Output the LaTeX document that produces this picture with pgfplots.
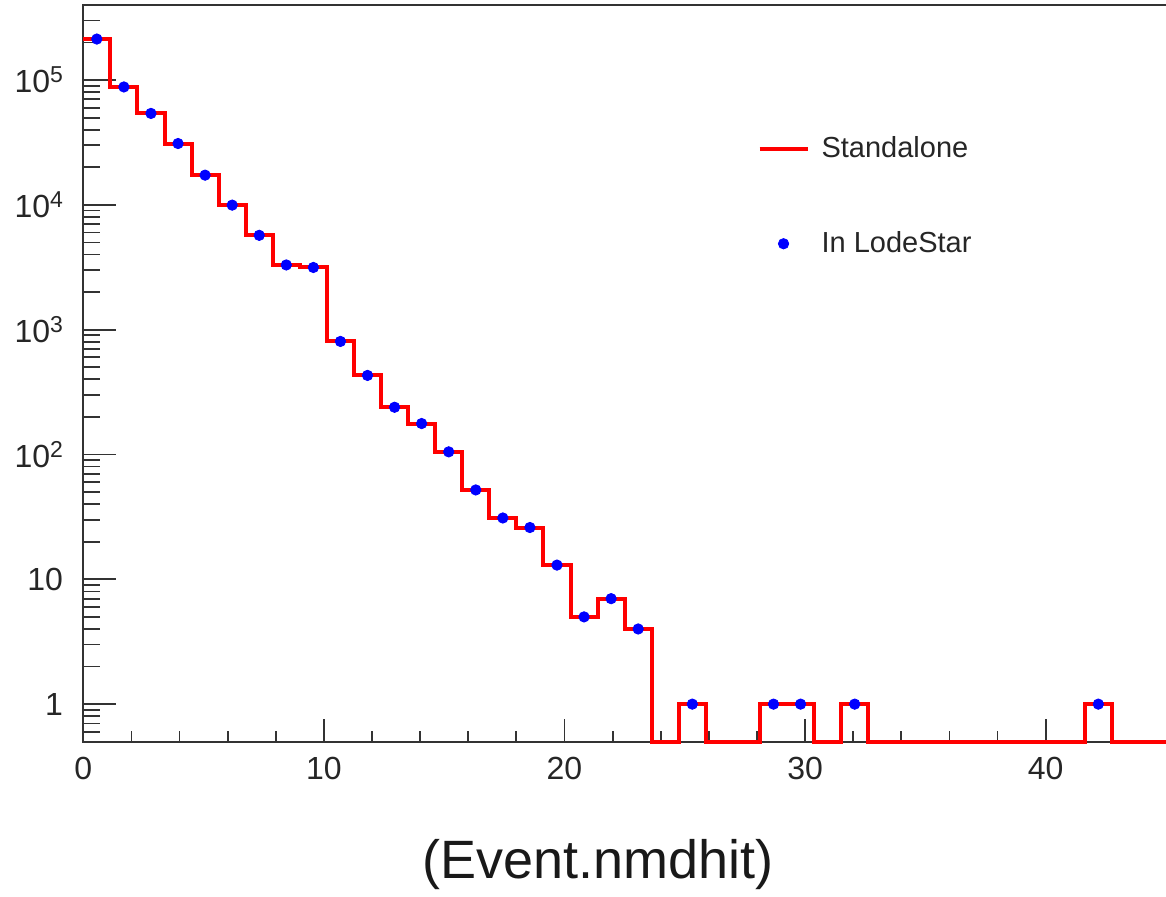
\documentclass[border=0pt]{standalone}
\usepackage{fontspec}
\setmainfont{Liberation Sans}
\usepackage{pgfplots}
\pgfplotsset{compat=1.18}
\definecolor{axgray}{gray}{0.2}
\pgfplotsset{
  linelegend/.style={legend image code/.code={\draw[##1] (0pt,0pt) -- (24pt,0pt);}},
  marklegend/.style={legend image code/.code={\draw[##1] plot coordinates {(12pt,0pt)};}},
}
\begin{document}
\begin{tikzpicture}
% ---- axis 1: frame + y ticks (ROOT-style long y ticks)
\begin{axis}[
  at={(41.65pt,77.15pt)}, anchor=south west,
  scale only axis, width=542.55pt, height=368.2pt,
  xmin=0, xmax=45.1, ymode=log, ymin=0.5, ymax=3.97e5,
  axis line style={line width=1pt, axgray},
  tick align=inside, ytick pos=left,
  xmajorticks=false, xminorticks=false,
  major tick length=16.5pt, minor tick length=8.5pt,
  every tick/.style={line width=0.9pt, axgray},
  ytick={1,10,100,1000,10000,100000},
  minor ytick={0.5,0.6,0.7,0.8,0.9,2,3,4,5,6,7,8,9,20,30,40,50,60,70,80,90,200,300,400,500,600,700,800,900,2000,3000,4000,5000,6000,7000,8000,9000,20000,30000,40000,50000,60000,70000,80000,90000,200000,300000},
  yticklabels={1,10,
    10\raisebox{0.3em}{\fontsize{11.5}{11.5}\selectfont 2},
    10\raisebox{0.3em}{\fontsize{11.5}{11.5}\selectfont 3},
    10\raisebox{0.3em}{\fontsize{11.5}{11.5}\selectfont 4},
    10\raisebox{0.3em}{\fontsize{11.5}{11.5}\selectfont 5}},
  yticklabel style={font=\fontsize{16}{19}\selectfont, inner sep=0pt, xshift=-10pt, text=black!85},
]
\end{axis}
% ---- axis 2: x ticks + data + legend
\begin{axis}[
  at={(41.65pt,77.15pt)}, anchor=south west,
  scale only axis, width=542.55pt, height=368.2pt,
  xmin=0, xmax=45.1, ymode=log, ymin=0.5, ymax=3.97e5,
  clip=false,
  axis line style={line width=1pt, axgray},
  tick align=inside, xtick pos=bottom,
  ymajorticks=false, yminorticks=false,
  major tick length=11.5pt, minor tick length=5.5pt,
  every tick/.style={line width=0.9pt, axgray},
  xtick={0,10,20,30,40}, minor x tick num=4,
  xticklabel style={font=\fontsize{16}{19}\selectfont, inner sep=0pt, yshift=-7.5pt, anchor=north, text=black!85,
    /pgf/number format/assume math mode=true},
  xlabel={(Event.nmdhit)},
  xlabel style={font=\fontsize{27}{32}\selectfont, at={(axis description cs:0.4745,-0.1851)}, anchor=base, text=black!90},
  legend style={draw=none, fill=none, at={(axis description cs:0.621,0.8275)}, anchor=north west,
    inner sep=0pt, row sep=31.5pt, column sep=4pt,
    font=\fontsize{14.5}{17}\selectfont, text=black!85,
    cells={inner sep=0pt}},
  legend cell align=left,
]
\addplot[const plot, red, line width=2pt, line join=miter, linelegend]
  coordinates {
  (0,213000) (1.125,88000) (2.25,54000) (3.375,31000) (4.5,17300)
  (5.625,9950) (6.75,5700) (7.875,3300) (9,3150) (10.125,805)
  (11.25,430) (12.375,239) (13.5,177) (14.625,105) (15.75,52)
  (16.875,31) (18,26) (19.125,13) (20.25,5) (21.375,7)
  (22.5,4) (23.625,0.5) (24.75,1) (25.875,0.5) (27,0.5)
  (28.125,1) (29.25,1) (30.375,0.5) (31.5,1) (32.625,0.5)
  (33.75,0.5) (34.875,0.5) (36,0.5) (37.125,0.5) (38.25,0.5)
  (39.375,0.5) (40.5,0.5) (41.625,1) (42.75,0.5) (43.875,0.5)
  (45,0.5)
  };
\addlegendentry{Standalone}
\addplot[only marks, mark=*, mark size=2.6pt, color=blue, mark options={fill=blue, draw=blue}, marklegend]
  coordinates {
  (0.5625,213000) (1.6875,88000) (2.8125,54000) (3.9375,31000) (5.0625,17300)
  (6.1875,9950) (7.3125,5700) (8.4375,3300) (9.5625,3150) (10.6875,805)
  (11.8125,430) (12.9375,239) (14.0625,177) (15.1875,105) (16.3125,52)
  (17.4375,31) (18.5625,26) (19.6875,13) (20.8125,5) (21.9375,7)
  (23.0625,4) (25.3125,1) (28.6875,1) (29.8125,1) (32.0625,1) (42.1875,1)
  };
\addlegendentry{In LodeStar}
\end{axis}
\pgfresetboundingbox
\path (0,0) rectangle (583pt,448pt);
\end{tikzpicture}
\end{document}
